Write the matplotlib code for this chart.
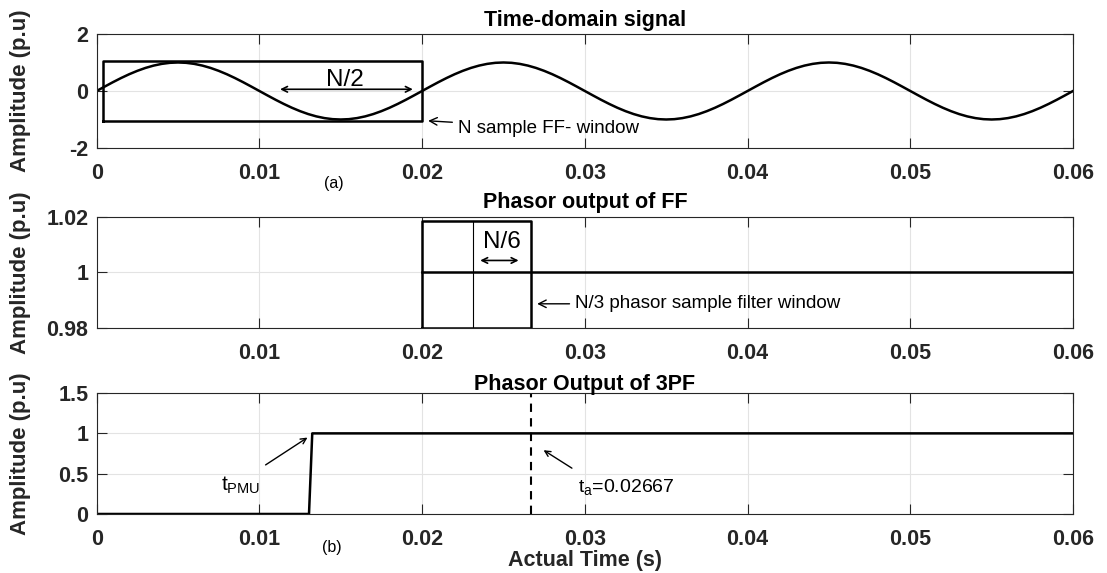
import matplotlib.pyplot as plt

plt.rcParams['font.family'] = ['Liberation Sans', 'DejaVu Sans']
plt.rcParams['mathtext.fontset'] = 'custom'
plt.rcParams['mathtext.rm'] = 'Liberation Sans'
plt.rcParams['axes.unicode_minus'] = False

# (a) time-domain signal, one 50 Hz cycle sampled every 0.5 ms, repeated 3 times
dt = 0.0005
one_cycle = [0, 0.156, 0.309, 0.454, 0.588, 0.707, 0.809, 0.891, 0.951, 0.988,
             1, 0.988, 0.951, 0.891, 0.809, 0.707, 0.588, 0.454, 0.309, 0.156,
             0, -0.156, -0.309, -0.454, -0.588, -0.707, -0.809, -0.891, -0.951, -0.988,
             -1, -0.988, -0.951, -0.891, -0.809, -0.707, -0.588, -0.454, -0.309, -0.156]
signal = one_cycle * 3 + [0]
t_signal = [i * dt for i in range(len(signal))]

# N sample FF window
ff_win_x = [0.00037, 0.02]
ff_win_y = [-1.07, 1.05]

# (middle) phasor output of FF
t_ff = [0.02, 0.06]
ff_out = [1, 1]
pf_win_x = [0.02, 0.02667]
pf_win_y = [0.98, 1.0186]
pf_split = 0.0231

# (b) phasor output of 3PF
t_3pf = [0, 0.01305, 0.01325, 0.06]
pf_out = [0, 0, 1, 1]
t_a = 0.02667

x_ticks_full = [0, 0.01, 0.02, 0.03, 0.04, 0.05, 0.06]
x_tick_labels_full = ['0', '0.01', '0.02', '0.03', '0.04', '0.05', '0.06']

fig = plt.figure(figsize=(11.07, 5.73), dpi=100)
ax1 = fig.add_axes([0.0873, 0.7417, 0.882, 0.199])
ax2 = fig.add_axes([0.0873, 0.4276, 0.882, 0.194])
ax3 = fig.add_axes([0.0873, 0.1030, 0.882, 0.211])

def style(ax):
    ax.set_xlim(0, 0.06)
    ax.grid(True, color='#e3e3e3', linewidth=0.8)
    ax.set_axisbelow(True)
    for s in ax.spines.values():
        s.set_color('#262626')
        s.set_linewidth(0.8)
    ax.tick_params(direction='in', length=7, width=0.8, color='#262626',
                   top=True, right=True, labelsize=15.5, labelcolor='#262626')
    ax.tick_params(axis='y', pad=6)
    ax.tick_params(axis='x', pad=11)
    for lab in ax.get_xticklabels() + ax.get_yticklabels():
        lab.set_fontweight('bold')
    ax.set_ylabel('Amplitude (p.u)', fontsize=16, fontweight='bold', color='#262626')
    ax.yaxis.set_label_coords(-0.067, 0.5)

# panel (a)
ax1.plot(t_signal, signal, color='black', linewidth=1.8)
ax1.plot([ff_win_x[0], ff_win_x[1], ff_win_x[1], ff_win_x[0], ff_win_x[0]],
         [ff_win_y[0], ff_win_y[0], ff_win_y[1], ff_win_y[1], ff_win_y[0]],
         color='black', linewidth=1.8)
ax1.set_ylim(-2, 2)
ax1.set_yticks([-2, 0, 2])
ax1.set_xticks(x_ticks_full)
ax1.set_xticklabels(x_tick_labels_full)
style(ax1)
ax1.set_title('Time-domain signal', fontsize=15.5, fontweight='bold', pad=6)
ax1.annotate('', xy=(0.0196, 0.06), xytext=(0.0111, 0.06),
             arrowprops=dict(arrowstyle='<->', color='black', lw=1.2))
ax1.text(0.01525, 0.4, 'N/2', fontsize=17.5, ha='center', va='center')
ax1.annotate('N sample FF- window', xy=(0.0202, -1.04), xytext=(0.0222, -1.3),
             fontsize=13.5, va='center',
             arrowprops=dict(arrowstyle='->', color='black', lw=1))
ax1.text(0.01455, -3.25, '(a)', fontsize=11.5, ha='center', va='center')

# middle panel
ax2.plot(t_ff, ff_out, color='black', linewidth=1.8)
ax2.plot([pf_win_x[0], pf_win_x[1], pf_win_x[1], pf_win_x[0], pf_win_x[0]],
         [pf_win_y[0], pf_win_y[0], pf_win_y[1], pf_win_y[1], pf_win_y[0]],
         color='black', linewidth=1.8)
ax2.plot([pf_split, pf_split], pf_win_y, color='black', linewidth=0.8)
ax2.set_ylim(0.98, 1.02)
ax2.set_yticks([0.98, 1, 1.02])
ax2.set_yticklabels(['0.98', '1', '1.02'])
ax2.set_xticks(x_ticks_full[1:])
ax2.set_xticklabels(x_tick_labels_full[1:])
style(ax2)
ax2.set_title('Phasor output of FF', fontsize=15.5, fontweight='bold', pad=6)
ax2.annotate('', xy=(0.0261, 1.0043), xytext=(0.0234, 1.0043),
             arrowprops=dict(arrowstyle='<->', color='black', lw=1.2))
ax2.text(0.0249, 1.011, 'N/6', fontsize=17.5, ha='center', va='center')
ax2.annotate('N/3 phasor sample filter window', xy=(0.0269, 0.9887),
             xytext=(0.0294, 0.9887), fontsize=13.5, va='center',
             arrowprops=dict(arrowstyle='->', color='black', lw=1))

# panel (b)
ax3.plot(t_3pf, pf_out, color='black', linewidth=1.8)
ax3.plot([t_a, t_a], [0, 1.5], color='black', linewidth=1.5, linestyle=(0, (4, 3)))
ax3.set_ylim(0, 1.5)
ax3.set_yticks([0, 0.5, 1, 1.5])
ax3.set_yticklabels(['0', '0.5', '1', '1.5'])
ax3.set_xticks(x_ticks_full)
ax3.set_xticklabels(x_tick_labels_full)
style(ax3)
ax3.set_title('Phasor Output of 3PF', fontsize=15.5, fontweight='bold', pad=2)
ax3.set_xlabel('Actual Time (s)', fontsize=15.5, fontweight='bold', color='#262626',
               labelpad=0)
ax3.annotate('', xy=(0.0131, 0.967), xytext=(0.01024, 0.59),
             arrowprops=dict(arrowstyle='->', color='black', lw=1))
ax3.text(0.00767, 0.36, r'$\mathregular{t_{PMU}}$', fontsize=15, ha='left', va='center')
ax3.annotate('', xy=(0.02732, 0.81), xytext=(0.02935, 0.55),
             arrowprops=dict(arrowstyle='->', color='black', lw=1))
ax3.text(0.0296, 0.33, r'$\mathregular{t_a}$=0.02667', fontsize=14, ha='left', va='center')
ax3.text(0.01445, -0.42, '(b)', fontsize=11.5, ha='center', va='center')

fig.savefig('out.png', dpi=100)
